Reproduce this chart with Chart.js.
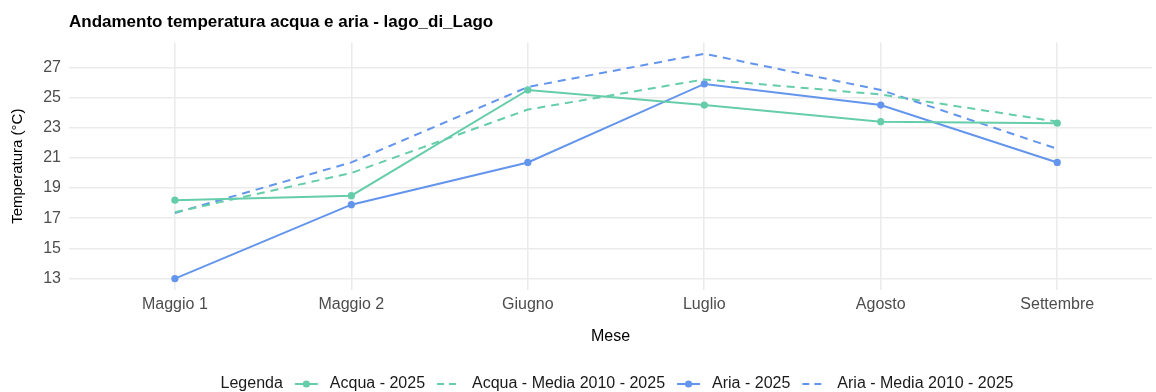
<!DOCTYPE html>
<html>
<head>
<meta charset="utf-8">
<script src="https://cdn.jsdelivr.net/npm/chart.js@4.4.1/dist/chart.umd.min.js"></script>
<style>
  body { margin: 0; background: #fff; }
  #wrap { width: 1156px; height: 392px; position: relative; }
</style>
</head>
<body>
<div id="wrap"><canvas id="chart"></canvas></div>
<script>
const months = ['Maggio 1', 'Maggio 2', 'Giugno', 'Luglio', 'Agosto', 'Settembre'];
const acqua2025 = [18.2, 18.5, 25.5, 24.5, 23.4, 23.3];
const acquaMedia = [17.4, 20.0, 24.2, 26.2, 25.2, 23.4];
const aria2025 = [13.0, 17.9, 20.7, 25.9, 24.5, 20.7];
const ariaMedia = [17.35, 20.7, 25.7, 27.9, 25.5, 21.6];
const yTickLabels = [13, 15, 17, 19, 21, 23, 25, 27];

const FONT = "'Liberation Sans', Arial, sans-serif";
const GREEN = '#66CDAA';
const BLUE = '#6495ED';

const toPoints = arr => arr.map((v, i) => ({ x: i, y: v }));

function series(label, values, color, dashed) {
  return {
    label,
    data: toPoints(values),
    borderColor: color,
    backgroundColor: color,
    borderWidth: 2,
    borderDash: dashed ? [8, 6] : [],
    pointRadius: dashed ? 0 : 3.6,
    pointBorderWidth: 0,
    tension: 0
  };
}

// legend row at the bottom, with "Legenda" written inline before the keys
const bottomLegend = {
  id: 'bottomLegend',
  afterDraw(chart) {
    const ctx = chart.ctx;
    const y = 384;
    const keyW = 23, gap = 12;
    ctx.save();
    ctx.font = '16px ' + FONT;
    ctx.textBaseline = 'middle';
    const head = 'Legenda';
    const items = chart.data.datasets.map(ds => ({ ds, w: ctx.measureText(ds.label).width }));
    let total = ctx.measureText(head).width;
    items.forEach(it => { total += gap + keyW + gap + it.w; });
    let x = 617 - total / 2;
    ctx.fillStyle = '#1a1a1a';
    ctx.fillText(head, x, y);
    x += ctx.measureText(head).width;
    items.forEach(({ ds, w }) => {
      x += gap;
      ctx.strokeStyle = ds.borderColor;
      ctx.lineWidth = 2;
      ctx.setLineDash(ds.borderDash.length ? [7, 5] : []);
      ctx.beginPath();
      ctx.moveTo(x, y);
      ctx.lineTo(x + keyW, y);
      ctx.stroke();
      ctx.setLineDash([]);
      if (ds.pointRadius > 0) {
        ctx.fillStyle = ds.borderColor;
        ctx.beginPath();
        ctx.arc(x + keyW / 2, y, 3.6, 0, Math.PI * 2);
        ctx.fill();
      }
      x += keyW + gap;
      ctx.fillStyle = '#1a1a1a';
      ctx.fillText(ds.label, x, y);
      x += w;
    });
    ctx.restore();
  }
};

new Chart(document.getElementById('chart'), {
  type: 'line',
  data: {
    datasets: [
      series('Acqua - 2025', acqua2025, GREEN, false),
      series('Acqua - Media 2010 - 2025', acquaMedia, GREEN, true),
      series('Aria - 2025', aria2025, BLUE, false),
      series('Aria - Media 2010 - 2025', ariaMedia, BLUE, true)
    ]
  },
  options: {
    responsive: true,
    maintainAspectRatio: false,
    animation: false,
    layout: { padding: { left: 0, right: 0, top: 0, bottom: 32 } },
    plugins: {
      legend: { display: false },
      tooltip: { enabled: false },
      title: {
        display: true,
        text: 'Andamento temperatura acqua e aria - lago_di_Lago',
        align: 'start',
        fullSize: false,
        color: '#000',
        font: { family: FONT, size: 17, weight: 'bold' },
        padding: { top: 12, bottom: 10 }
      }
    },
    scales: {
      x: {
        type: 'linear',
        min: -0.6,
        max: 5.537,
        afterBuildTicks: axis => { axis.ticks = months.map((m, i) => ({ value: i })); },
        afterFit: scale => { scale.height = 70; },
        border: { display: false },
        grid: { color: '#EBEBEB', lineWidth: 1.6, drawTicks: false },
        ticks: {
          padding: 5,
          color: '#4D4D4D',
          font: { family: FONT, size: 16 },
          callback: v => months[v]
        },
        title: {
          display: true,
          text: 'Mese',
          color: '#000',
          font: { family: FONT, size: 16 },
          padding: { top: 0, bottom: 14 }
        }
      },
      y: {
        min: 12.25,
        max: 28.65,
        afterBuildTicks: axis => {
          const t = [];
          for (let v = 13; v <= 28; v++) t.push({ value: v });
          axis.ticks = t;
        },
        afterFit: scale => { scale.width = 69; },
        border: { display: false },
        grid: {
          color: '#EBEBEB',
          lineWidth: c => (yTickLabels.includes(c.tick.value) ? 1.6 : 1),
          drawTicks: false
        },
        ticks: {
          padding: 8,
          color: '#4D4D4D',
          font: { family: FONT, size: 16 },
          callback: v => (yTickLabels.includes(v) ? String(v) : '')
        },
        title: {
          display: true,
          text: 'Temperatura (°C)',
          color: '#000',
          font: { family: FONT, size: 15 },
          padding: { top: 9, bottom: 0 }
        }
      }
    }
  },
  plugins: [bottomLegend]
});
</script>
</body>
</html>
